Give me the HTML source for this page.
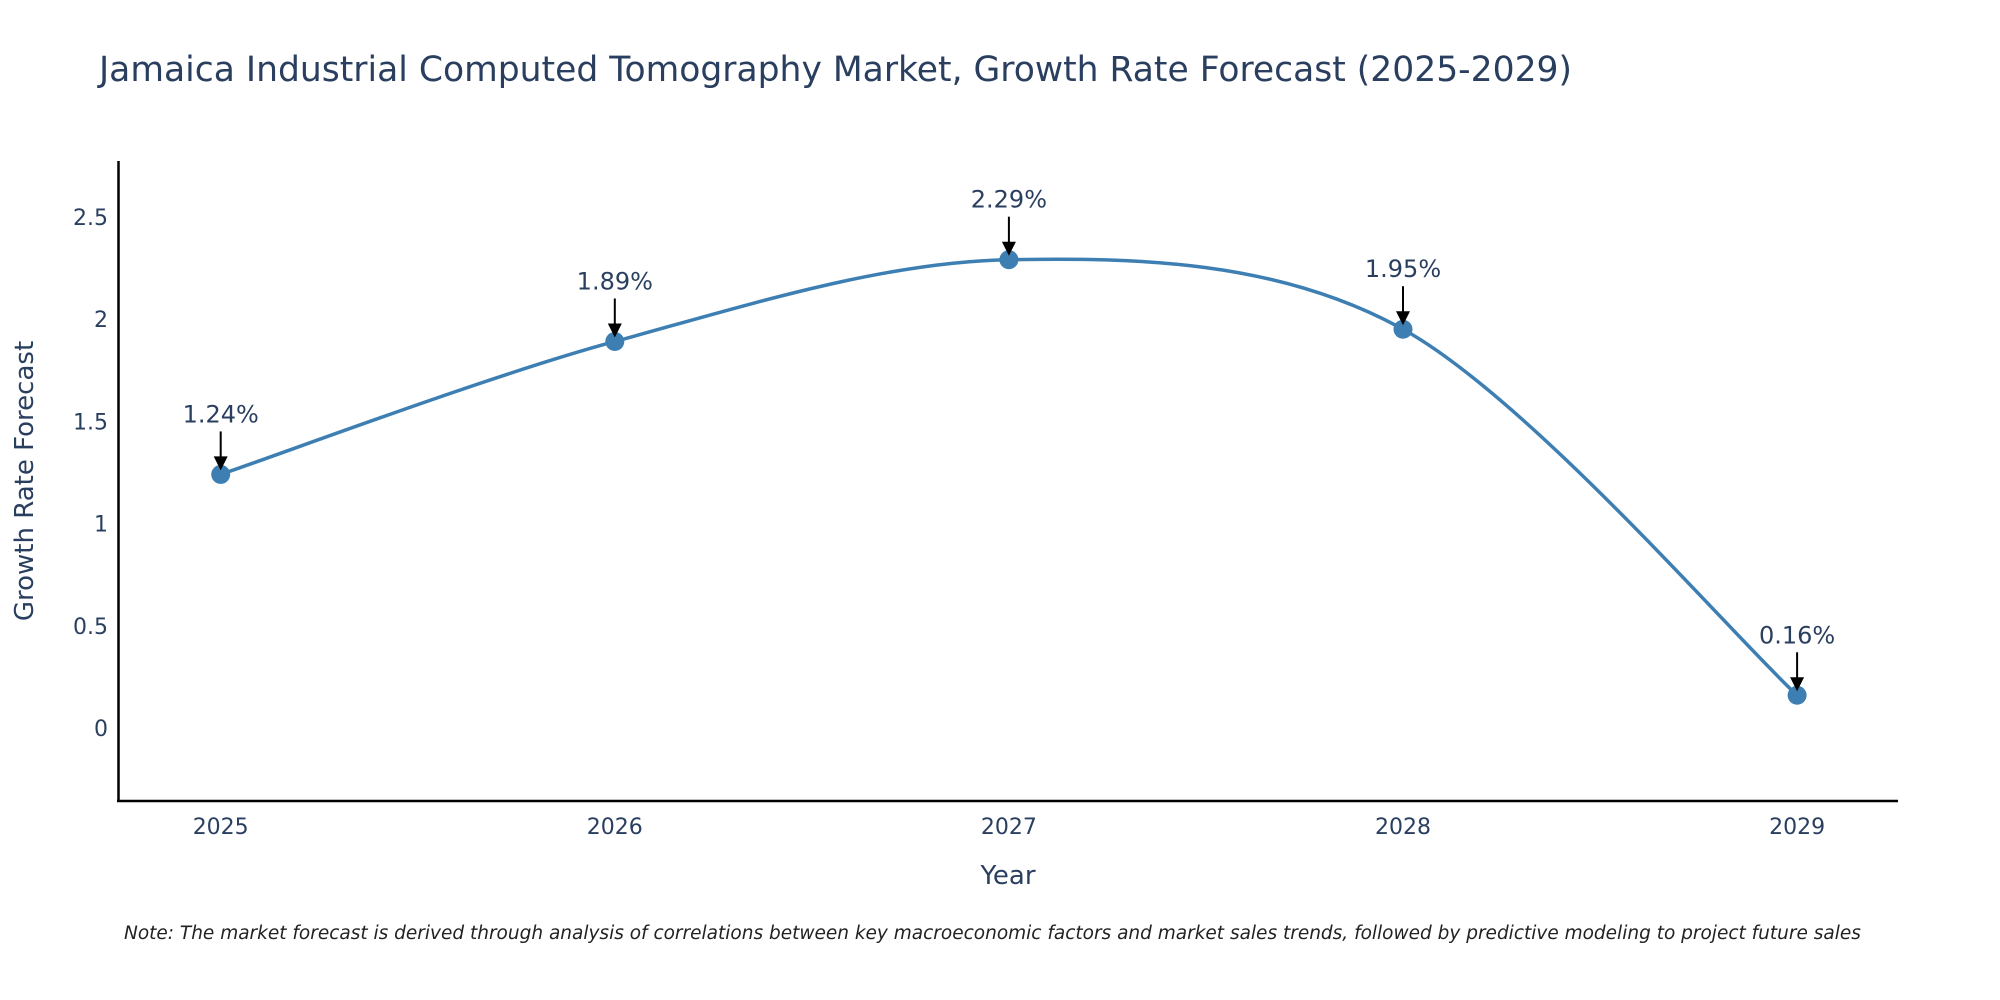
<!DOCTYPE html>
<html><head><meta charset="utf-8"><style>
html,body{margin:0;padding:0;background:#fff;}
svg{display:block;font-family:"DejaVu Sans","Liberation Sans",sans-serif;}
</style></head><body>
<svg id="chart" width="2000" height="1000" viewBox="0 0 2000 1000">
<text x="99" y="81" font-size="35" fill="#2a3f5f" textLength="1473" lengthAdjust="spacingAndGlyphs">Jamaica Industrial Computed Tomography Market, Growth Rate Forecast (2025-2029)</text>
<g id="yticks"></g>
<g id="xticks"></g>
<line x1="118.5" y1="161" x2="118.5" y2="802" stroke="#000" stroke-width="2.5"/>
<line x1="117" y1="801" x2="1898" y2="801" stroke="#000" stroke-width="2.5"/>
<path id="line" fill="none" stroke="#3d7fb3" stroke-width="3.5"/>
<g id="points"></g>
<g id="annots"></g>
<text x="1008" y="884" font-size="26" fill="#2a3f5f" text-anchor="middle">Year</text>
<text transform="translate(33,481) rotate(-90)" font-size="26" fill="#2a3f5f" text-anchor="middle">Growth Rate Forecast</text>
<text x="124" y="939" font-size="18.5" font-style="italic" fill="#222">Note: The market forecast is derived through analysis of correlations between key macroeconomic factors and market sales trends, followed by predictive modeling to project future sales</text>
</svg>
<script>
const years = ["2025","2026","2027","2028","2029"];
const values = [1.24, 1.89, 2.29, 1.95, 0.16];
const yTickValues = [0, 0.5, 1, 1.5, 2, 2.5];
const yTickLabels = ["0","0.5","1","1.5","2","2.5"];

const NS = "http://www.w3.org/2000/svg";
const xScale = i => 220.7 + i * 394.1;
const yScale = v => 728 - v * 204.5;
function mk(tag, attrs, parent){const e=document.createElementNS(NS,tag);for(const k in attrs)e.setAttribute(k,attrs[k]);parent.appendChild(e);return e;}

const yt = document.getElementById('yticks');
yTickValues.forEach((v,i)=>{
  const t = mk('text',{x:108,y:yScale(v)+8,'font-size':22,fill:'#2a3f5f','text-anchor':'end'},yt);
  
  
  t.textContent = yTickLabels[i];
});
const xt = document.getElementById('xticks');
years.forEach((y,i)=>{
  const t = mk('text',{x:xScale(i),y:834,'font-size':22,fill:'#2a3f5f','text-anchor':'middle'},xt);
  
  
  t.textContent = y;
});

const pts = values.map((v,i)=>[xScale(i), yScale(v)]);
let d = `M${pts[0][0]},${pts[0][1]}`;
const k = 0.16;
for(let i=0;i<pts.length-1;i++){
  const p0=pts[Math.max(0,i-1)], p1=pts[i], p2=pts[i+1], p3=pts[Math.min(pts.length-1,i+2)];
  const c1=[p1[0]+(p2[0]-p0[0])*k, p1[1]+(p2[1]-p0[1])*k];
  const c2=[p2[0]-(p3[0]-p1[0])*k, p2[1]-(p3[1]-p1[1])*k];
  d += ` C${c1[0]},${c1[1]} ${c2[0]},${c2[1]} ${p2[0]},${p2[1]}`;
}
document.getElementById('line').setAttribute('d', d);

const pg = document.getElementById('points');
const ag = document.getElementById('annots');
pts.forEach((p,i)=>{
  const c = mk('circle',{cx:p[0],cy:p[1],r:9.5,fill:'#3d7fb3'},pg);
  
  
  const ln = mk('line',{x1:p[0],y1:p[1]-43,x2:p[0],y2:p[1]-16,stroke:'#000','stroke-width':2},ag);
  
  
  const hd = mk('path',{d:`M${p[0]-7},${p[1]-18} L${p[0]+7},${p[1]-18} L${p[0]},${p[1]-4} Z`,fill:'#000'},ag);
  
  
  const t = mk('text',{x:p[0],y:p[1]-52,'font-size':24,fill:'#2a3f5f','text-anchor':'middle'},ag);
  
  
  t.textContent = values[i].toFixed(2) + '%';
});
</script>
</body></html>
